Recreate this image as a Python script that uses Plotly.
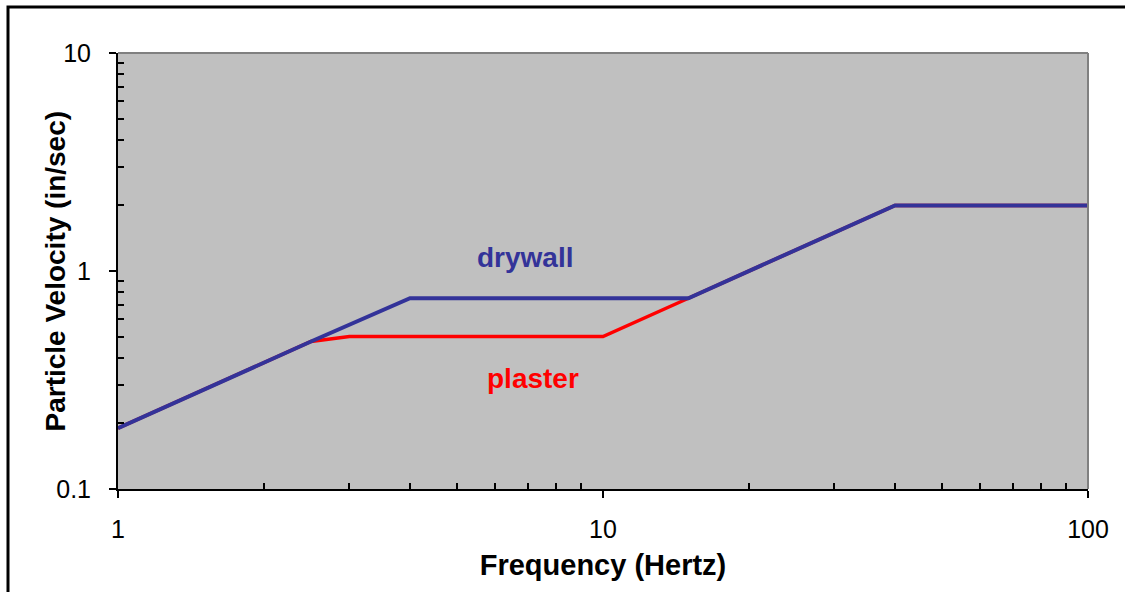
import plotly.graph_objects as go

# Data (Hz, in/sec)
drywall_freq = [1, 2.5, 4, 15, 40, 100]
drywall_vel = [0.19, 0.475, 0.75, 0.75, 2.0, 2.0]
plaster_freq = [1, 2.5, 3, 10, 15, 40, 100]
plaster_vel = [0.19, 0.475, 0.5, 0.5, 0.75, 2.0, 2.0]

x_major = [1, 10, 100]
x_minor = [2, 3, 4, 5, 6, 7, 8, 9, 20, 30, 40, 50, 60, 70, 80, 90]
y_major = [0.1, 1, 10]
y_minor = [0.2, 0.3, 0.4, 0.5, 0.6, 0.7, 0.8, 0.9, 2, 3, 4, 5, 6, 7, 8, 9]

RED = "#FF0000"
BLUE = "#333399"
FONT = "Liberation Sans, Arial, sans-serif"

fig = go.Figure()
fig.add_trace(go.Scatter(x=plaster_freq, y=plaster_vel, mode="lines",
                         line=dict(color=RED, width=3.5), name="plaster",
                         showlegend=False, hoverinfo="skip"))
fig.add_trace(go.Scatter(x=drywall_freq, y=drywall_vel, mode="lines",
                         line=dict(color=BLUE, width=4), name="drywall",
                         showlegend=False, hoverinfo="skip"))

axis_common = dict(
    type="log", showgrid=False, zeroline=False,
    showline=True, linecolor="black", linewidth=2,
    ticks="outside", ticklen=7, tickwidth=2, tickcolor="black",
    tickfont=dict(family=FONT, size=25, color="black"),
)

fig.update_layout(
    width=1125, height=592,
    margin=dict(l=118, r=37, t=53, b=103),
    paper_bgcolor="white", plot_bgcolor="#C0C0C0",
    xaxis=dict(axis_common, range=[0, 2], tickmode="array",
               tickvals=x_major, ticktext=["1", "10", "100"],
               ticklabelstandoff=10,
               minor=dict(tickmode="array", tickvals=x_minor, ticks="inside",
                          ticklen=6, tickwidth=2, tickcolor="black"),
               title=dict(text="<b>Frequency (Hertz)</b>", standoff=13,
                          font=dict(family=FONT, size=29, color="black"))),
    yaxis=dict(axis_common, range=[-1, 1], tickmode="array",
               tickvals=y_major, ticktext=["0.1", "1", "10"],
               ticklabelstandoff=13,
               minor=dict(tickmode="array", tickvals=y_minor, ticks="inside",
                          ticklen=6, tickwidth=2, tickcolor="black")),
    xaxis2=dict(type="log", range=[0, 2], overlaying="x", anchor="y", side="bottom",
                showgrid=False, zeroline=False, showline=False,
                tickmode="array", tickvals=x_major, showticklabels=False,
                ticks="inside", ticklen=7, tickwidth=2, tickcolor="black"),
    yaxis2=dict(type="log", range=[-1, 1], overlaying="y", anchor="x", side="left",
                showgrid=False, zeroline=False, showline=False,
                tickmode="array", tickvals=y_major, showticklabels=False,
                ticks="inside", ticklen=7, tickwidth=2, tickcolor="black"),
    shapes=[
        dict(type="line", xref="x domain", yref="y domain", x0=0, x1=1, y0=1, y1=1,
             line=dict(color="#808080", width=2)),
        dict(type="line", xref="x domain", yref="y domain", x0=1, x1=1, y0=0, y1=1,
             line=dict(color="#808080", width=2)),
        dict(type="rect", xref="paper", yref="paper",
             x0=(8 - 118) / 970, x1=(1135 - 118) / 970,
             y0=(489 - 600) / 436, y1=1 + (53 - 7) / 436,
             line=dict(color="black", width=3), fillcolor="rgba(0,0,0,0)"),
    ],
    annotations=[
        dict(x=(55 - 118) / 970, y=(489 - 271.5) / 436, xref="paper", yref="paper",
             text="<b>Particle Velocity (in/sec)</b>", textangle=-90,
             xanchor="center", yanchor="middle", showarrow=False,
             font=dict(family=FONT, size=28, color="black")),
        dict(x=0.839, y=0.064, xref="x", yref="y", text="<b>drywall</b>",
             showarrow=False, font=dict(family=FONT, size=28, color=BLUE)),
        dict(x=0.856, y=-0.491, xref="x", yref="y", text="<b>plaster</b>",
             showarrow=False, font=dict(family=FONT, size=28, color=RED)),
    ],
)

fig.write_html("out.html", post_script="document.body.style.margin='0';",
               config={"displayModeBar": False})
